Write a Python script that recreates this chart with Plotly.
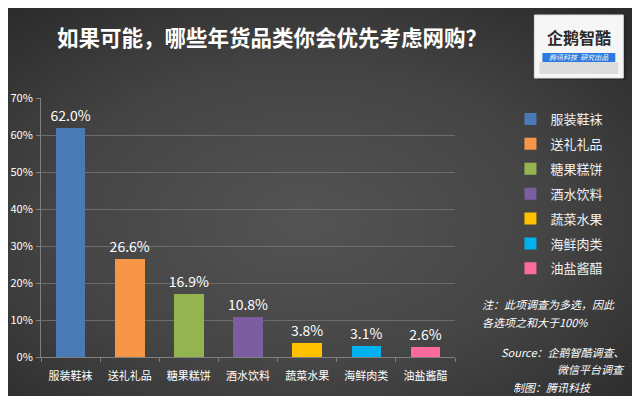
import base64
import plotly.graph_objects as go

categories = ["服装鞋袜", "送礼礼品", "糖果糕饼", "酒水饮料", "蔬菜水果", "海鲜肉类", "油盐酱醋"]
values = [62.0, 26.6, 16.9, 10.8, 3.8, 3.1, 2.6]
colors = ["#4A7AB5", "#F79646", "#94B452", "#7B5EA0", "#FFC000", "#00B0F0", "#FF6A9E"]
y_ticks = [0, 10, 20, 30, 40, 50, 60, 70]
y_tick_labels = ["0%", "10%", "20%", "30%", "40%", "50%", "60%", "70%"]

FONT = "Noto Sans CJK SC, Noto Sans, sans-serif"

fig = go.Figure()
for cat, val, col in zip(categories, values, colors):
    fig.add_trace(go.Bar(
        x=[cat], y=[val], name=cat, marker_color=col, marker_line_width=0,
        width=0.5, text=[f"{val:.1f}%"], textposition="outside", constraintext="none",
        textfont=dict(color="white", size=14, family=FONT),
        legendgroup=cat, cliponaxis=False,
    ))

# page offset of the plot div (default body margin)
OFF = 8
W, H = 632, 388
# plot area in page pixels: x 41..455.5, y 98..357
L = 41 - OFF
T = 98 - OFF
R = W - (455.5 - OFF)
B = H - (357 - OFF)
pw, ph = W - L - R, H - T - B

def px(x):
    return (x - OFF - L) / pw

def py(y):
    return (H - B - (y - OFF)) / ph

svg = ('<svg xmlns="http://www.w3.org/2000/svg" width="640" height="396" viewBox="0 0 640 396" preserveAspectRatio="none">'
       '<defs><radialGradient id="g" cx="0.47" cy="0.55" r="0.72">'
       '<stop offset="0" stop-color="#545454"/><stop offset="0.55" stop-color="#444444"/>'
       '<stop offset="1" stop-color="#2b2b2b"/></radialGradient></defs>'
       '<rect width="640" height="396" fill="url(#g)"/></svg>')
src = "data:image/svg+xml;base64," + base64.b64encode(svg.encode()).decode()

fig.update_layout(
    width=W, height=H,
    margin=dict(l=L, r=R, t=T, b=B, autoexpand=False),
    paper_bgcolor="#404040", plot_bgcolor="rgba(0,0,0,0)",
    barmode="stack",
    font=dict(family=FONT, color="white"),
    showlegend=True,
    legend=dict(x=px(511), y=py(104), xanchor="left", yanchor="top",
                font=dict(size=13, color="#f0f0f0", family=FONT),
                tracegroupgap=5, bgcolor="rgba(0,0,0,0)", itemwidth=30),
    images=[dict(source=src, xref="paper", yref="paper", x=px(OFF), y=py(OFF),
                 sizex=W / pw, sizey=H / ph, xanchor="left", yanchor="top",
                 sizing="stretch", layer="below")],
)
fig.update_xaxes(type="category", showgrid=False, showline=True, linecolor="#808080",
                 ticks="outside", tickson="boundaries", ticklen=4, tickcolor="#808080",
                 ticklabelstandoff=9,
                 tickfont=dict(size=11, color="white", family=FONT), automargin=False)
fig.update_yaxes(range=[0, 70], tickvals=y_ticks, ticktext=y_tick_labels,
                 showgrid=True, gridcolor="#6c6c6c", gridwidth=1, showline=True,
                 linecolor="#808080", ticks="outside", ticklen=4, tickcolor="#808080",
                 ticklabelstandoff=1,
                 zeroline=False, tickfont=dict(size=11, color="white", family=FONT), automargin=False)

fig.add_annotation(text="<b>如果可能，哪些年货品类你会优先考虑网购？</b>", xref="paper", yref="paper",
                   x=px(272), y=py(36), xanchor="center", yanchor="middle", showarrow=False,
                   font=dict(size=21.5, color="white", family=FONT))

# logo (top right)
fig.add_shape(type="rect", xref="paper", yref="paper", x0=px(538), x1=px(627), y0=py(80), y1=py(17),
              fillcolor="#1e1e1e", opacity=0.5, line=dict(width=0), layer="above")
fig.add_shape(type="rect", xref="paper", yref="paper", x0=px(535), x1=px(624), y0=py(78), y1=py(15),
              fillcolor="#f6f6f6", line=dict(color="#e0e0e0", width=1), layer="above")
fig.add_shape(type="rect", xref="paper", yref="paper", x0=px(540), x1=px(619), y0=py(74), y1=py(62),
              fillcolor="#dcdcdc", line=dict(width=0), layer="above")
fig.add_shape(type="rect", xref="paper", yref="paper", x0=px(543), x1=px(616), y0=py(62), y1=py(53),
              fillcolor="#2d7be0", line=dict(width=0), layer="above")
fig.add_annotation(text="<b>企鹅智酷</b>", xref="paper", yref="paper", x=px(580), y=py(37),
                   xanchor="center", yanchor="middle", showarrow=False, borderpad=0,
                   font=dict(size=16, color="#2a2a2a", family=FONT))
fig.add_annotation(text="<i>腾讯科技  研究出品</i>", xref="paper", yref="paper", x=px(580), y=py(57.5),
                   xanchor="center", yanchor="middle", showarrow=False, borderpad=0,
                   font=dict(size=7, color="white", family=FONT))

notes = [
    ("<i>注：此项调查为多选，因此</i>", 481, 304, "left"),
    ("<i>各选项之和大于100%</i>", 481, 322, "left"),
    ("<i>Source：企鹅智酷调查、</i>", 628, 352, "right"),
    ("<i>微信平台调查</i>", 628, 369, "right"),
    ("<i>制图：腾讯科技</i>", 512, 387, "left"),
]
for txt, x, y, anc in notes:
    fig.add_annotation(text=txt, xref="paper", yref="paper", x=px(x), y=py(y),
                       xanchor=anc, yanchor="middle", showarrow=False,
                       font=dict(size=11, color="white", family=FONT))

fig.write_html("out.html")
